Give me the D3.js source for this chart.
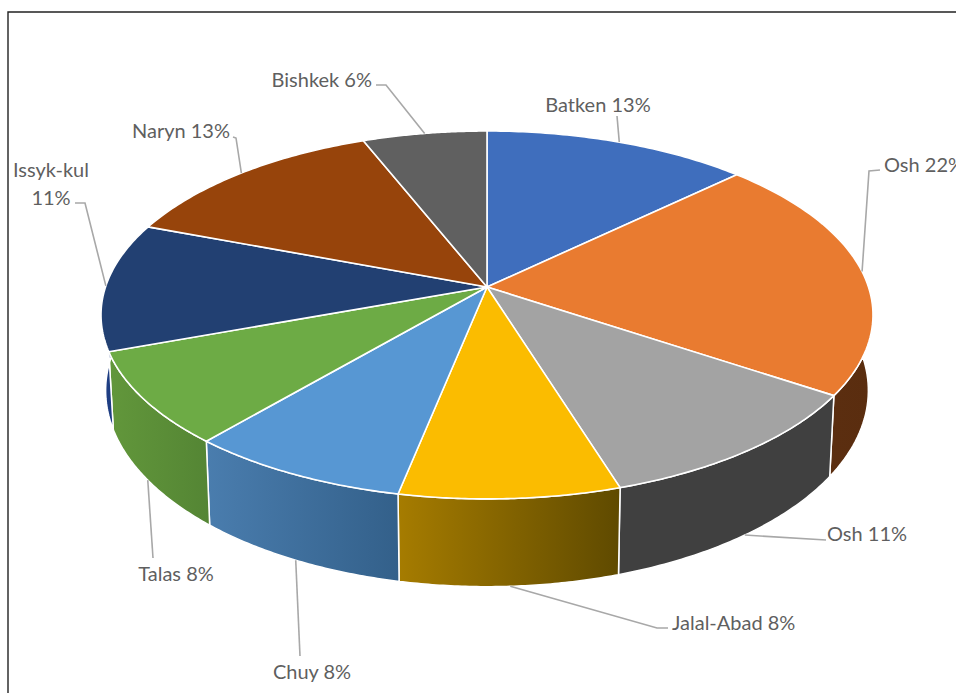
<!DOCTYPE html>
<html>
<head>
<meta charset="utf-8">
<style>
  html, body { margin: 0; padding: 0; background: #fff; }
  svg { display: block; }
  text { font-family: Lato, "Open Sans", sans-serif; font-size: 20px; fill: #5f5f5f; }
</style>
<script src="https://cdn.jsdelivr.net/npm/d3@7"></script>
</head>
<body>
<script>
// Regional shares shown on the 3D pie
const regions = ["Batken", "Osh", "Osh", "Jalal-Abad", "Chuy", "Talas", "Issyk-kul", "Naryn", "Bishkek"];
const shares = [13, 22, 11, 8, 8, 8, 11, 13, 6];

// Slice palette: top face, then wall gradient (left to right)
const topColors = ["#3f6ebd", "#e97b30", "#a3a3a3", "#fbbc00", "#5797d3", "#6dab45", "#224072", "#97440b", "#606060"];
const wallLeft = ["#2f5391", "#5e3012", "#404040", "#a67c00", "#4a7dae", "#62973b", "#1f3f86", "#5e3012", "#444444"];
const wallRight = ["#2f5391", "#5a2d0f", "#404040", "#5f4a00", "#33608a", "#548534", "#1a3570", "#5e3012", "#444444"];

// Label placement: text lines, anchor point, and the leader's bend
const labelLayout = [
  { lines: ["Batken 13%"], x: 598, y: 104, anchor: "middle", path: [[617, 116]], rim: "top" },
  { lines: ["Osh 22%"], x: 884, y: 164, anchor: "start", path: [[880, 170], [869, 171]], rim: "top" },
  { lines: ["Osh 11%"], x: 827, y: 533, anchor: "start", path: [[826, 540]], rim: "bottom" },
  { lines: ["Jalal-Abad 8%"], x: 672, y: 622, anchor: "start", path: [[668, 628], [657, 628]], rim: "bottom" },
  { lines: ["Chuy 8%"], x: 312, y: 671, anchor: "middle", path: [[300, 656]], rim: "bottom" },
  { lines: ["Talas 8%"], x: 176, y: 573, anchor: "middle", path: [[153, 558]], rim: "bottom" },
  { lines: ["Issyk-kul", "11%"], x: 51, y: 169, anchor: "middle", path: [[75, 203], [85, 203]], rim: "top" },
  { lines: ["Naryn 13%"], x: 230, y: 130, anchor: "end", path: [[233, 137], [236, 138]], rim: "top" },
  { lines: ["Bishkek 6%"], x: 372, y: 79, anchor: "end", path: [[376, 85], [386, 85]], rim: "top" }
];

const W = 956, H = 693;
const cx = 487, cy = 287;      // where the slices meet on screen
const a = 381.5, b = 179.7;    // disc scale before perspective
const k = 0.152;               // perspective strength, near edge larger
const yaw = 3.0 * Math.PI / 180; // slight camera yaw: front of the disc slides sideways
const wall = 73.7;             // pie thickness at the centre line

// Disc angle (clockwise from 12 o'clock) to top-face screen position at radius r
function topPoint(theta, r = 1) {
  const t = theta - yaw * (1 - Math.cos(theta)) / 2;
  const u = r * Math.sin(t), v = r * Math.cos(t);
  const w = 1 + k * v;
  return [cx + a * u / w, cy - b * v / w];
}

// Matching point on the lower rim of the pie wall
function bottomPoint(theta) {
  const [x, y] = topPoint(theta);
  return [cx + 0.988 * (x - cx), y + wall * (1 + 0.0009 * (y - cy))];
}

const svg = d3.select("body").append("svg").attr("width", W).attr("height", H);
const defs = svg.append("defs");
const line = d3.line();

// Frame: only the top and left edges fall inside the view
svg.append("path")
  .attr("d", line([[8, H], [8, 12], [W, 12]]))
  .attr("fill", "none").attr("stroke", "#222").attr("stroke-width", 1.4);

const slices = d3.pie().sort(null).value(d => d)(shares);
const rimSamples = s => d3.range(0, 61).map(i => s.startAngle + (s.endAngle - s.startAngle) * i / 60);

// Side walls first, the top face then covers whatever lies behind it
const walls = svg.append("g");
slices.forEach((s, i) => {
  const angles = rimSamples(s);
  const upper = angles.map(t => topPoint(t));
  const lower = angles.map(t => bottomPoint(t)).reverse();
  const xs = upper.concat(lower).map(p => p[0]);
  const id = "wall" + i;
  const grad = defs.append("linearGradient").attr("id", id)
    .attr("gradientUnits", "userSpaceOnUse")
    .attr("x1", d3.min(xs)).attr("x2", d3.max(xs)).attr("y1", 0).attr("y2", 0);
  grad.append("stop").attr("offset", 0).attr("stop-color", wallLeft[i]);
  grad.append("stop").attr("offset", 1).attr("stop-color", wallRight[i]);
  walls.append("path")
    .attr("d", line(upper.concat(lower)) + "Z")
    .attr("fill", `url(#${id})`)
    .attr("stroke", "#fff").attr("stroke-width", 1.5).attr("stroke-linejoin", "round");
});

// Top face wedges
svg.append("g").selectAll("path").data(slices).join("path")
  .attr("d", s => line([[cx, cy], ...rimSamples(s).map(t => topPoint(t))]) + "Z")
  .attr("fill", (s, i) => topColors[i])
  .attr("stroke", "#fff").attr("stroke-width", 1.6).attr("stroke-linejoin", "round");

// Leader lines run from each label to the middle of its slice's rim
const leaders = svg.append("g").attr("fill", "none").attr("stroke", "#a8a8a8").attr("stroke-width", 1.6);
slices.forEach((s, i) => {
  const mid = (s.startAngle + s.endAngle) / 2;
  const end = labelLayout[i].rim === "top" ? topPoint(mid) : bottomPoint(mid);
  leaders.append("path").attr("d", line([...labelLayout[i].path, end]));
});

// Labels
const labels = svg.append("g");
labelLayout.forEach((l, i) => {
  const t = labels.append("text")
    .attr("x", l.x).attr("y", l.y).attr("text-anchor", l.anchor)
    .attr("dominant-baseline", "central");
  l.lines.forEach((txt, j) => {
    t.append("tspan").attr("x", l.x).attr("dy", j === 0 ? 0 : 28).text(txt);
  });
});
</script>
</body>
</html>
